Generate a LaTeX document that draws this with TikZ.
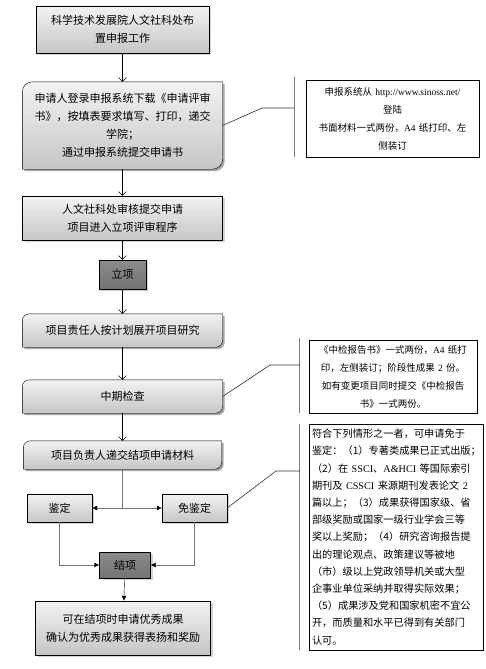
\documentclass[tikz,border=0pt]{standalone}
\usepackage{fontspec}
\setmainfont{Noto Sans CJK SC}
\newfontfamily\latin{Liberation Serif}
\usepackage{tikz}
\usetikzlibrary{shapes,arrows,arrows.meta,shadows,backgrounds}
\tikzset{>={Straight Barb[length=4pt,width=8pt]}}
\tikzstyle{block} = [rectangle, draw, top color=gray!10, bottom color=gray!45,
    text centered, drop shadow={shadow xshift=2pt, shadow yshift=-2pt, opacity=.35}]
\tikzstyle{dblock} = [rectangle, draw, top color=black!45, bottom color=black!55,
    text centered, drop shadow={shadow xshift=2pt, shadow yshift=-2pt, opacity=.35}]
\tikzstyle{rblock} = [rectangle, text centered]
\tikzstyle{note} = [rectangle, draw, fill=white, inner xsep=5pt,
    font=\fontsize{9.5}{18}\selectfont]
\tikzstyle{line} = [draw, ->]
\tikzstyle{fline} = [draw=black!55, -{Latex[length=5pt,width=5pt,color=black]}]
\tikzstyle{tie} = [draw=black!80, line width=.6pt]
\tikzstyle{brace} = [draw=black!50, line width=1.2pt]

\begin{document}
\begin{tikzpicture}[x=1pt, y=1pt, node distance=96pt,
    every node/.style={font=\fontsize{11}{18}\selectfont}, align=center]
        \useasboundingbox (0,0) rectangle (485,-669);

        \node[block, minimum width=173pt, minimum height=47pt] (deploy) at (122.5,-29.5) {科学技术发展院人文社科处布\\置申报工作};
        \node[rblock, minimum width=200pt, minimum height=87pt, below of=deploy] (apply) {申请人登录申报系统下载《申请评审\\书》，按填表要求填写、打印，递交\\学院；\\通过申报系统提交申请书};
        \node[block, minimum width=200pt, minimum height=44pt, below of=apply, node distance=92.5pt] (review) {人文社科处审核提交申请\\项目进入立项评审程序};
        \node[dblock, minimum width=47pt, minimum height=29pt, below of=review, node distance=56.5pt] (approve) {立项};
        \node[rblock, minimum width=200pt, minimum height=33pt, below of=approve, node distance=56pt] (study) {项目责任人按计划展开项目研究};
        \node[rblock, minimum width=200pt, minimum height=33pt, below of=study, node distance=66pt] (midcheck) {中期检查};
        \node[rblock, minimum width=198pt, minimum height=28pt, below of=midcheck, node distance=58.5pt] (submit) {项目负责人递交结项申请材料};

        \coordinate[below of=submit, node distance=53pt] (split);
        \node[block, minimum width=65pt, minimum height=28pt, left of=split, node distance=63pt] (appraise) {鉴定};
        \node[block, minimum width=65pt, minimum height=28pt, right of=split, node distance=72pt] (exempt) {免鉴定};
        \node[dblock, minimum width=51pt, minimum height=26pt, below of=split, node distance=57pt, xshift=2.5pt] (close) {结项};
        \node[block, minimum width=175pt, minimum height=54pt, below of=close, node distance=63pt, xshift=-2pt] (honor) {可在结项时申请优秀成果\\确认为优秀成果获得表扬和奖励};

        % side notes
        \node[note, text width=163pt, minimum height=77pt] (sys) at (392.5,-118.5) {申报系统从 {\latin http://www.sinoss.net/}\\登陆\\书面材料一式两份，{\latin A4} 纸打印、左\\侧装订};
        \node[note, text width=158pt, minimum height=73pt] (mid) at (393,-376.5) {《中检报告书》一式两份，{\latin A4} 纸打\\印，左侧装订；阶段性成果 {\latin 2} 份。\\如有变更项目同时提交《中检报告\\书》一式两份。};
        \node[note, text width=168pt, inner xsep=3pt, minimum height=226pt, align=left,
            font=\fontsize{10.2}{17.2}\selectfont] (exm) at (396,-537) {符合下列情形之一者，可申请免于\\鉴定：（1）专著类成果已正式出版；\\（2）在~{\latin SSCI}、{\latin A\&HCI}~等国际索引\\期刊及~{\latin CSSCI}~来源期刊发表论文~{\latin 2}\\篇以上；（3）成果获得国家级、省\\部级奖励或国家一级行业学会三等\\奖以上奖励；（4）研究咨询报告提\\出的理论观点、政策建议等被地\\（市）级以上党政领导机关或大型\\企事业单位采纳并取得实际效果；\\（5）成果涉及党和国家机密不宜公\\开，而质量和水平已得到有关部门\\认可。};

        % rounded boxes (two corners only)
        \begin{scope}[on background layer]
            \foreach \n/\r in {apply/10pt, study/7pt, midcheck/7pt, submit/7pt}{
                \fill[black, opacity=.35, transform canvas={shift={(2pt,-2pt)}}] (\n.south west) -- ([yshift=-\r]\n.north west) arc[start angle=180, end angle=90, radius=\r] -- (\n.north east) -- ([yshift=\r]\n.south east) arc[start angle=0, end angle=-90, radius=\r] -- cycle;
                \draw[top color=gray!10, bottom color=gray!45] (\n.south west) -- ([yshift=-\r]\n.north west) arc[start angle=180, end angle=90, radius=\r] -- (\n.north east) -- ([yshift=\r]\n.south east) arc[start angle=0, end angle=-90, radius=\r] -- cycle;
            }
        \end{scope}

        \path [line] (deploy) -- (apply);
        \path [line] (apply) -- (review);
        \path [line] (review) -- (approve);
        \path [line] (approve) -- (study);
        \path [line] (study) -- (midcheck);
        \path [line] (midcheck) -- (submit);

        \path [fline] (submit) -- (split) -- (appraise);
        \path [fline] (split) -- (exempt);
        \path [fline] (appraise) |- (close);
        \path [fline] (exempt) |- (close);
        \path [fline, draw=black] (close) -- (honor);

        % brackets to the notes
        \coordinate (sysb) at ([xshift=-11pt]sys.west);
        \coordinate (midb) at ([xshift=-9pt]mid.west);
        \coordinate (exmb) at ([xshift=-9pt]exm.west);
        \path [brace] ([xshift=-11pt,yshift=3pt]sys.north west) -- ([xshift=-11pt]sys.south west);
        \path [brace] ([xshift=-9pt,yshift=2pt]mid.north west) -- ([xshift=-9pt]mid.south west);
        \path [brace] ([xshift=-9pt]exm.north west) -- ([xshift=-9pt]exm.south west);
        \coordinate (sysk) at (262,-108);
        \coordinate (midk) at (270,-365);
        \coordinate (exmk) at (276,-471);
        \path [tie] (apply.east) -- (sysk) -- (sysk -| sysb);
        \path [tie] (midcheck.east) -- (midk) -- (midk -| midb);
        \path [tie] (exempt.east) -- (exmk) -- (exmk -| exmb);
    \end{tikzpicture}
\end{document}
